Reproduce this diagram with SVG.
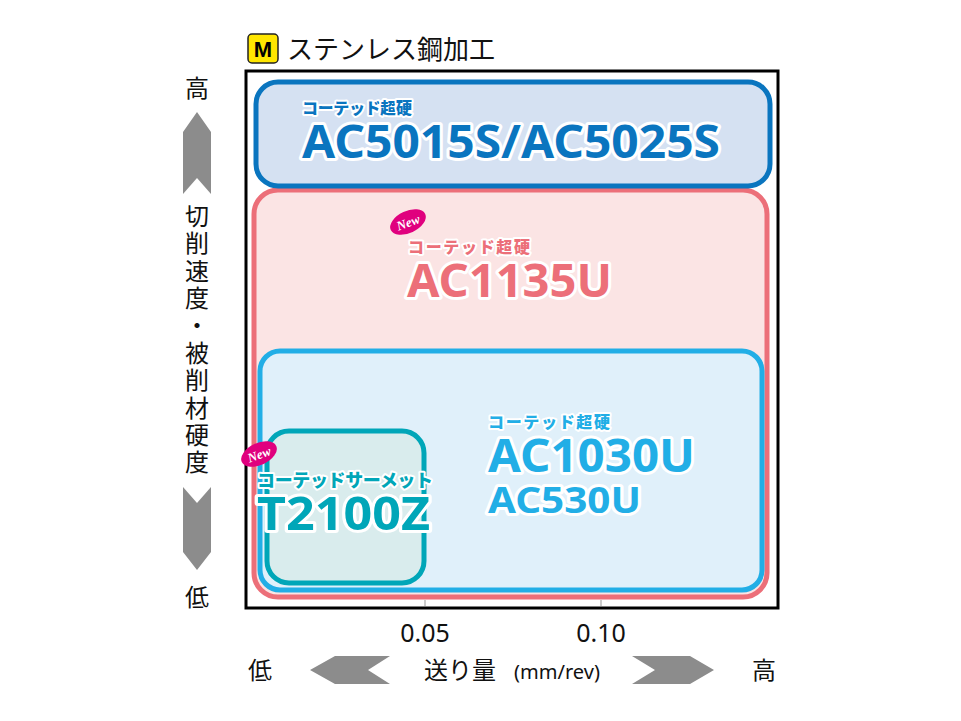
<svg xmlns="http://www.w3.org/2000/svg" width="961" height="721" viewBox="0 0 961 721">
<style>
.jp{font-family:"Noto Sans CJK JP","Noto Sans",sans-serif;fill:#111}
.lbl{font-family:"Noto Sans CJK JP","Noto Sans",sans-serif;font-weight:900;paint-order:stroke;stroke:#fff;stroke-linejoin:round}
.big{font-family:"Noto Sans","Liberation Sans",sans-serif;font-weight:700;paint-order:stroke;stroke:#fff;stroke-linejoin:round;stroke-width:6}
.arr{fill:#8c8c8c}
.new{font-family:"Liberation Serif",serif;font-style:italic;font-weight:700;fill:#fff;font-size:13px}
.num{font-family:"Noto Sans",sans-serif;font-size:25px;fill:#111}
</style>
<rect width="961" height="721" fill="#fff"/>
<g id="title">
<rect x="248" y="34" width="30" height="29" rx="4" fill="#ffe600" stroke="#222" stroke-width="1.5"/>
<text x="263" y="57" text-anchor="middle" style="font-family:'Liberation Sans',sans-serif;font-weight:700;font-size:22px">M</text>
<text x="287" y="59" class="jp" font-size="26">ステンレス鋼加工</text>
</g>
<g id="frame">
<rect x="246" y="71" width="532" height="537" fill="#fff" stroke="#000" stroke-width="3"/>
<line x1="425" y1="600" x2="425" y2="606" stroke="#999"/>
<line x1="601" y1="600" x2="601" y2="606" stroke="#999"/>
</g>
<g id="pink">
<rect x="254" y="190" width="513" height="407" rx="24" fill="#fbe4e4" stroke="#ec6f79" stroke-width="5"/>
<ellipse cx="408" cy="222" rx="19" ry="11" fill="#e0007e" transform="rotate(-25 408 222)"/>
<text x="408" y="227" text-anchor="middle" class="new" transform="rotate(-20 408 222)">New</text>
<text x="408" y="253" class="lbl" font-size="16" fill="#ec6f79" stroke-width="4" textLength="122">コーテッド超硬</text>
<text x="407" y="297" class="big" font-size="46" fill="#ec6f79" textLength="205" lengthAdjust="spacingAndGlyphs">AC1135U</text>
</g>
<g id="blue">
<rect x="256" y="82" width="514" height="104" rx="22" fill="#d5e1f2" stroke="#0a75bf" stroke-width="5"/>
<text x="302" y="114" class="lbl" font-size="16" fill="#0a75bf" stroke-width="4" textLength="110">コーテッド超硬</text>
<text x="302" y="158" class="big" font-size="46" fill="#0a75bf" textLength="418" lengthAdjust="spacingAndGlyphs">AC5015S/AC5025S</text>
</g>
<g id="lightblue">
<rect x="260" y="351" width="502" height="239" rx="20" fill="#e0f0fa" stroke="#22aee6" stroke-width="5"/>
<text x="488" y="428" class="lbl" font-size="16" fill="#22aee6" stroke-width="4" textLength="122">コーテッド超硬</text>
<text x="488" y="472" class="big" font-size="46" fill="#22aee6" textLength="207" lengthAdjust="spacingAndGlyphs">AC1030U</text>
<text x="488" y="513" class="big" font-size="36" fill="#22aee6" textLength="153" lengthAdjust="spacingAndGlyphs">AC530U</text>
</g>
<g id="teal">
<rect x="267" y="431" width="157" height="152" rx="22" fill="#d9eced" stroke="#00a6b8" stroke-width="5"/>
<ellipse cx="259" cy="454" rx="19" ry="11" fill="#e0007e" transform="rotate(-25 259 454)"/>
<text x="259" y="459" text-anchor="middle" class="new" transform="rotate(-20 259 454)">New</text>
<text x="257" y="487" class="lbl" font-size="18" fill="#00a6b8" stroke-width="4" textLength="176">コーテッドサーメット</text>
<text x="257" y="530" class="big" font-size="46" fill="#00a6b8" textLength="173" lengthAdjust="spacingAndGlyphs">T2100Z</text>
</g>
<g id="yaxis">
<text x="197" y="97" text-anchor="middle" class="jp" font-size="24">高</text>
<polygon class="arr" points="197,112 211,132 211,194 197,178 183,194 183,132"/>
<g class="jp" font-size="24" text-anchor="middle">
<text x="197" y="225">切</text><text x="197" y="252">削</text><text x="197" y="280">速</text><text x="197" y="307">度</text><text x="197" y="334">・</text><text x="197" y="362">被</text><text x="197" y="389">削</text><text x="197" y="417">材</text><text x="197" y="444">硬</text><text x="197" y="471">度</text>
</g>
<polygon class="arr" points="183,487 197,503 211,487 211,552 197,570 183,552"/>
<text x="197" y="606" text-anchor="middle" class="jp" font-size="24">低</text>
</g>
<g id="xaxis">
<text x="425" y="642" text-anchor="middle" class="num">0.05</text>
<text x="601" y="642" text-anchor="middle" class="num">0.10</text>
<text x="260" y="679" text-anchor="middle" class="jp" font-size="24">低</text>
<polygon class="arr" points="310,670 335,656 390,656 368,670 390,684 335,684"/>
<text x="424" y="679" class="jp" font-size="24">送り量</text>
<text x="514" y="679" style="font-family:'Noto Sans',sans-serif;font-size:20px;fill:#111" textLength="86" lengthAdjust="spacingAndGlyphs">(mm/rev)</text>
<polygon class="arr" points="632,656 690,656 714,670 690,684 632,684 655,670"/>
<text x="764" y="679" text-anchor="middle" class="jp" font-size="24">高</text>
</g>
</svg>
